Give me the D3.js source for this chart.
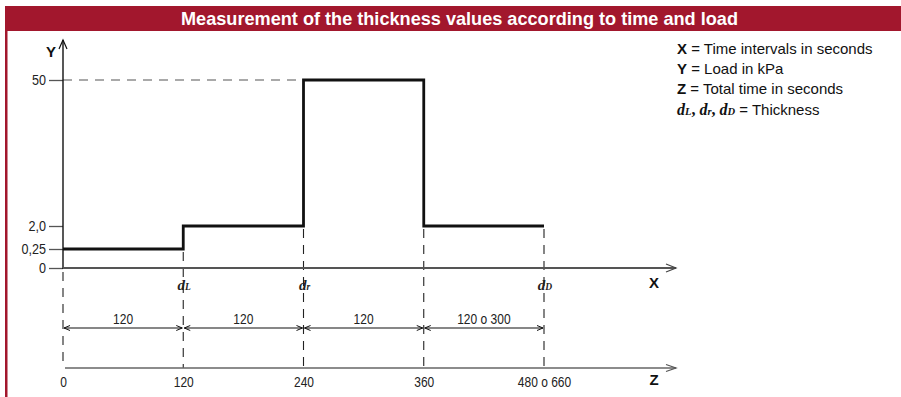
<!DOCTYPE html>
<html>
<head>
<meta charset="utf-8">
<script src="https://cdn.jsdelivr.net/npm/d3@7"></script>
<style>
  html, body { margin: 0; padding: 0; background: #fff; }
  svg { display: block; }
</style>
</head>
<body>
<svg id="chart" width="901" height="397"></svg>
<script>
// Load steps over time (seconds) and the readings taken at each boundary
const stepTimes = [0, 120, 240, 360, 480];
const stepLoads = [0.25, 2, 50, 2, 2];
const loadTicks = [0, 0.25, 2, 50];
const loadLabels = ["0", "0,25", "2,0", "50"];
const totalTimeLabels = ["0", "120", "240", "360", "480 o 660"];
const intervalLabels = ["120", "120", "120", "120 o 300"];
const thicknessTimes = [120, 240, 480];
const thicknessSubs = ["L", "r", "D"];
const legendKeys = ["X", "Y", "Z"];
const legendTexts = ["Time intervals in seconds", "Load in kPa", "Total time in seconds"];

const title = "Measurement of the thickness values according to time and load";
const brand = "#a2172d";
const sans = "Liberation Sans, Arial, Helvetica, sans-serif";
const serif = "Liberation Serif, DejaVu Serif, serif";
const narrow = 0.8; // horizontal squeeze for the condensed label face
const labelSize = 15;

const svg = d3.select("#chart");

// Header band and left rule
svg.append("rect").attr("x", 5).attr("y", 6).attr("width", 896).attr("height", 25).attr("fill", brand);
svg.append("rect").attr("x", 5).attr("y", 31).attr("width", 2.5).attr("height", 366).attr("fill", brand);
svg.append("text")
  .attr("x", 181).attr("y", 25)
  .attr("fill", "#fff")
  .attr("font-family", sans)
  .attr("font-weight", "bold")
  .attr("font-size", 18.5)
  .attr("textLength", 557)
  .attr("lengthAdjust", "spacingAndGlyphs")
  .text(title);

// Scales: time is linear, load axis is piecewise so the small loads stay readable
const x = d3.scaleLinear().domain([0, 480]).range([63, 544]);
const y = d3.scaleLinear().domain(loadTicks).range([268, 249, 226, 80]);

const xAxisY = y(0);
const dimY = 328;
const zAxisY = 368;
const axisEnd = 676;

function arrowHead(g, tipX, tipY, color, len, half) {
  g.append("path")
    .attr("d", `M${tipX - len},${tipY - half}L${tipX},${tipY}L${tipX - len},${tipY + half}`)
    .attr("fill", "none").attr("stroke", color).attr("stroke-width", 1.2);
}

// Dashed reference line at the peak load
svg.append("line")
  .attr("x1", x(0)).attr("x2", x(240))
  .attr("y1", y(50)).attr("y2", y(50))
  .attr("stroke", "#555").attr("stroke-width", 1.2)
  .attr("stroke-dasharray", "9,7");

// Vertical dashed guides from the load level down to the Z axis
stepTimes.forEach((t, i) => {
  const before = i === 0 ? 0 : stepLoads[i - 1];
  const after = i === 0 ? 0 : stepLoads[i];
  const top = y(Math.min(before, after));
  svg.append("line")
    .attr("x1", x(t)).attr("x2", x(t))
    .attr("y1", top + (i === 0 ? 4 : 3)).attr("y2", zAxisY)
    .attr("stroke", "#222").attr("stroke-width", 1.1)
    .attr("stroke-dasharray", "9,7");
});

// Y axis with ticks
const yAxis = d3.axisLeft(y)
  .tickValues(loadTicks)
  .tickFormat((d, i) => loadLabels[i])
  .tickSize(14)
  .tickPadding(4);
const yg = svg.append("g").attr("transform", `translate(${x(0)},0)`).call(yAxis);
yg.select(".domain").remove();
yg.selectAll(".tick line").attr("stroke", "#555").attr("stroke-width", 1.3);
yg.selectAll(".tick text")
  .attr("font-size", labelSize)
  .attr("font-family", sans)
  .attr("fill", "#222")
  .attr("x", -17 / 0.84)
  .attr("transform", "scale(0.84,1)");

svg.append("line")
  .attr("x1", x(0)).attr("x2", x(0))
  .attr("y1", 40).attr("y2", xAxisY + 1)
  .attr("stroke", "#111").attr("stroke-width", 1.4);
svg.append("path")
  .attr("d", `M${x(0) - 4},${49}L${x(0)},${40}L${x(0) + 4},${49}`)
  .attr("fill", "none").attr("stroke", "#111").attr("stroke-width", 1.2);
svg.append("text")
  .attr("x", 51).attr("y", 57)
  .attr("text-anchor", "middle")
  .attr("font-family", sans)
  .attr("font-weight", "bold").attr("font-size", 15)
  .attr("fill", "#111")
  .text("Y");

// X axis
svg.append("line")
  .attr("x1", x(0)).attr("x2", axisEnd)
  .attr("y1", xAxisY).attr("y2", xAxisY)
  .attr("stroke", "#555").attr("stroke-width", 2);
arrowHead(svg, axisEnd, xAxisY, "#444", 10, 4);
svg.append("text")
  .attr("x", 654).attr("y", 288)
  .attr("text-anchor", "middle")
  .attr("font-family", sans)
  .attr("font-weight", "bold").attr("font-size", 15)
  .attr("fill", "#111")
  .text("X");

// Load step profile
const stepPoints = stepTimes.map((t, i) => [t, stepLoads[i]]);
const line = d3.line()
  .x(d => x(d[0]))
  .y(d => y(d[1]))
  .curve(d3.curveStepAfter);
svg.append("path")
  .datum(stepPoints)
  .attr("d", line)
  .attr("fill", "none")
  .attr("stroke", "#111")
  .attr("stroke-width", 2.8)
  .attr("stroke-linejoin", "miter");

// Thickness reading markers
thicknessTimes.forEach((t, i) => {
  const tx = svg.append("text")
    .attr("x", x(t) + 1).attr("y", 290)
    .attr("text-anchor", "middle")
    .attr("font-family", serif)
    .attr("font-style", "italic").attr("font-weight", "bold")
    .attr("fill", "#222");
  tx.append("tspan").attr("font-size", 15).text("d");
  tx.append("tspan").attr("font-size", 9.5).text(thicknessSubs[i]);
});

// Interval dimension arrows
const dims = svg.append("g");
stepTimes.slice(0, -1).forEach((t, i) => {
  const x1 = x(t), x2 = x(stepTimes[i + 1]);
  dims.append("line")
    .attr("x1", x1 + 1).attr("x2", x2 - 1)
    .attr("y1", dimY).attr("y2", dimY)
    .attr("stroke", "#111").attr("stroke-width", 1.1);
  dims.append("path")
    .attr("d", `M${x1 + 7},${dimY - 2.5}L${x1 + 1},${dimY}L${x1 + 7},${dimY + 2.5}`)
    .attr("fill", "none").attr("stroke", "#111").attr("stroke-width", 1);
  dims.append("path")
    .attr("d", `M${x2 - 7},${dimY - 2.5}L${x2 - 1},${dimY}L${x2 - 7},${dimY + 2.5}`)
    .attr("fill", "none").attr("stroke", "#111").attr("stroke-width", 1);
  dims.append("text")
    .attr("transform", `translate(${(x1 + x2) / 2},324) scale(${narrow},1)`)
    .attr("text-anchor", "middle")
    .attr("font-family", sans)
    .attr("font-size", labelSize).attr("fill", "#222")
    .text(intervalLabels[i]);
});

// Z axis (total time)
svg.append("line")
  .attr("x1", x(0) + 2).attr("x2", axisEnd)
  .attr("y1", zAxisY).attr("y2", zAxisY)
  .attr("stroke", "#666").attr("stroke-width", 1.5);
arrowHead(svg, axisEnd, zAxisY, "#555", 10, 3.5);
const zAxis = d3.axisBottom(x)
  .tickValues(stepTimes)
  .tickFormat((d, i) => totalTimeLabels[i])
  .tickSize(0)
  .tickPadding(8);
const zg = svg.append("g").attr("transform", `translate(0,${zAxisY})`).call(zAxis);
zg.select(".domain").remove();
zg.selectAll(".tick text")
  .attr("font-size", labelSize)
  .attr("font-family", sans)
  .attr("fill", "#222")
  .attr("transform", `scale(${narrow},1)`);
svg.append("text")
  .attr("x", 654).attr("y", 385)
  .attr("text-anchor", "middle")
  .attr("font-family", sans)
  .attr("font-weight", "bold").attr("font-size", 15)
  .attr("fill", "#111")
  .text("Z");

// Legend
const legend = svg.append("g")
  .attr("font-family", sans)
  .attr("font-size", 15)
  .attr("fill", "#111");
legendKeys.forEach((k, i) => {
  const t = legend.append("text").attr("x", 677).attr("y", 54 + i * 20);
  t.append("tspan").attr("font-weight", "bold").text(k);
  t.append("tspan").text(" = " + legendTexts[i]);
});
const dl = legend.append("text").attr("x", 677).attr("y", 115);
thicknessSubs.forEach((s, i) => {
  dl.append("tspan")
    .attr("font-family", serif)
    .attr("font-style", "italic").attr("font-weight", "bold")
    .attr("font-size", 16).text("d");
  dl.append("tspan")
    .attr("font-family", serif)
    .attr("font-style", "italic").attr("font-weight", "bold")
    .attr("font-size", 10.5).text(s);
  if (i < thicknessSubs.length - 1) {
    dl.append("tspan")
      .attr("font-family", serif)
      .attr("font-weight", "bold")
      .attr("font-size", 16).text(", ");
  }
});
dl.append("tspan").text(" = Thickness");
</script>
</body>
</html>
